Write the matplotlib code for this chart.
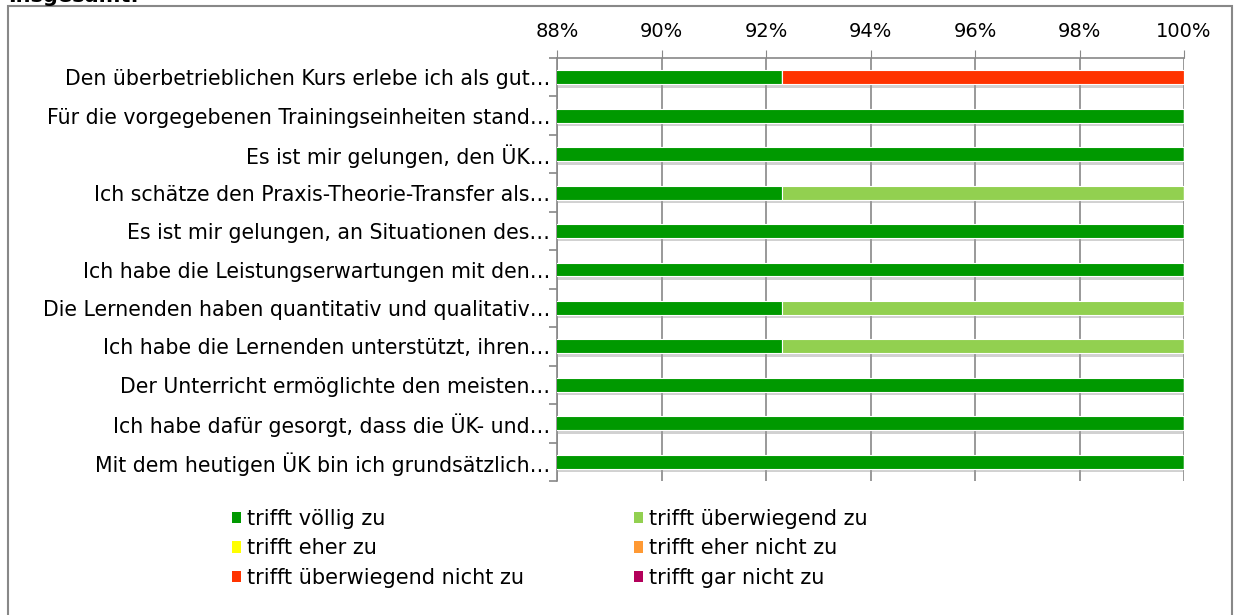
import matplotlib
matplotlib.use("Agg")
import matplotlib.pyplot as plt
import matplotlib.patheffects as pe
from matplotlib.patches import Rectangle, Patch
from matplotlib.ticker import FixedLocator, FuncFormatter

# --- Daten (Anteile in %) ---
fragen = [
    "Den überbetrieblichen Kurs erlebe ich als gut…",
    "Für die vorgegebenen Trainingseinheiten stand…",
    "Es ist mir gelungen, den ÜK…",
    "Ich schätze den Praxis-Theorie-Transfer als…",
    "Es ist mir gelungen, an Situationen des…",
    "Ich habe die Leistungserwartungen mit den…",
    "Die Lernenden haben quantitativ und qualitativ…",
    "Ich habe die Lernenden unterstützt, ihren…",
    "Der Unterricht ermöglichte den meisten…",
    "Ich habe dafür gesorgt, dass die ÜK- und…",
    "Mit dem heutigen ÜK bin ich grundsätzlich…",
]
kategorien = [
    "trifft völlig zu",
    "trifft überwiegend zu",
    "trifft eher zu",
    "trifft eher nicht zu",
    "trifft überwiegend nicht zu",
    "trifft gar nicht zu",
]
voellig = [92.3, 100, 100, 92.3, 100, 100, 92.3, 92.3, 100, 100, 100]
ueberwiegend = [0, 0, 0, 7.7, 0, 0, 7.7, 7.7, 0, 0, 0]
eher = [0] * 11
eher_nicht = [0] * 11
ueberwiegend_nicht = [7.7, 0, 0, 0, 0, 0, 0, 0, 0, 0, 0]
gar_nicht = [0] * 11
farben = ["#009900", "#92D050", "#FFFF00", "#FF9933", "#FF3300", "#B3005A"]
x_ticks = [88, 90, 92, 94, 96, 98, 100]

plt.rcParams["font.family"] = ["DejaVu Sans"]
fig = plt.figure(figsize=(12.35, 6.15), dpi=100)
ax = fig.add_axes([557 / 1235, 1 - 481 / 615, (1184 - 557) / 1235, (481 - 58) / 615])

serien = [voellig, ueberwiegend, eher, eher_nicht, ueberwiegend_nicht, gar_nicht]
y = list(range(len(fragen)))
links = [0.0] * len(fragen)
for werte, farbe in zip(serien, farben):
    bars = ax.barh(y, werte, left=links, height=0.36, color=farbe, edgecolor="white",
                   linewidth=0.8, zorder=3)
    for b, w in zip(bars, werte):
        if w > 0:
            b.set_path_effects([pe.SimplePatchShadow(offset=(0.5, -2.5), shadow_rgbFace="#999999",
                                                     alpha=0.45), pe.Normal()])
    links = [a + b for a, b in zip(links, werte)]

ax.set_xlim(88, 100)
ax.set_ylim(len(fragen) - 0.5, -0.5)
ax.xaxis.set_major_locator(FixedLocator(x_ticks))
ax.xaxis.set_major_formatter(FuncFormatter(lambda v, _: f"{v:.0f}%"))
ax.xaxis.tick_top()
ax.tick_params(axis="x", which="major", length=6, color="#888888", labelsize=14, pad=6)
ax.grid(axis="x", color="#888888", linewidth=1.2, zorder=0)

ax.set_yticks(y)
ax.set_yticklabels(fragen, fontsize=14.8)
ax.tick_params(axis="y", which="major", length=0, pad=5)
ax.yaxis.set_minor_locator(FixedLocator([i - 0.5 for i in range(len(fragen) + 1)]))
ax.tick_params(axis="y", which="minor", length=6, color="#888888", width=1.2)

for s in ["bottom", "right"]:
    ax.spines[s].set_visible(False)
for s in ["top", "left"]:
    ax.spines[s].set_color("#888888")
    ax.spines[s].set_linewidth(1.2)

# Legende: zeilenweise Anordnung wie im Original
reihenfolge = [0, 2, 4, 1, 3, 5]
handles = [Patch(facecolor=farben[i], edgecolor="none") for i in reihenfolge]
fig.legend(handles, [kategorien[i] for i in reihenfolge],
           ncol=2, loc="upper left", bbox_to_anchor=(232 / 1235, 1 - 509 / 615),
           borderaxespad=0, borderpad=0, frameon=False, fontsize=15,
           handlelength=0.45, handleheight=0.45, handletextpad=0.25,
           columnspacing=5.3, labelspacing=0.45)

# Rahmen und abgeschnittener Titel
fig.patches.append(Rectangle((8 / 1235, -0.05), (1232 - 8) / 1235, 1.05 - 6 / 615, fill=False,
                             edgecolor="#888888", linewidth=1.5, transform=fig.transFigure,
                             figure=fig))
fig.text(8 / 1235, 1 - 2 / 615, "Insgesamt:", fontsize=15, fontweight="bold", va="baseline")

fig.savefig("out.png", dpi=100)
